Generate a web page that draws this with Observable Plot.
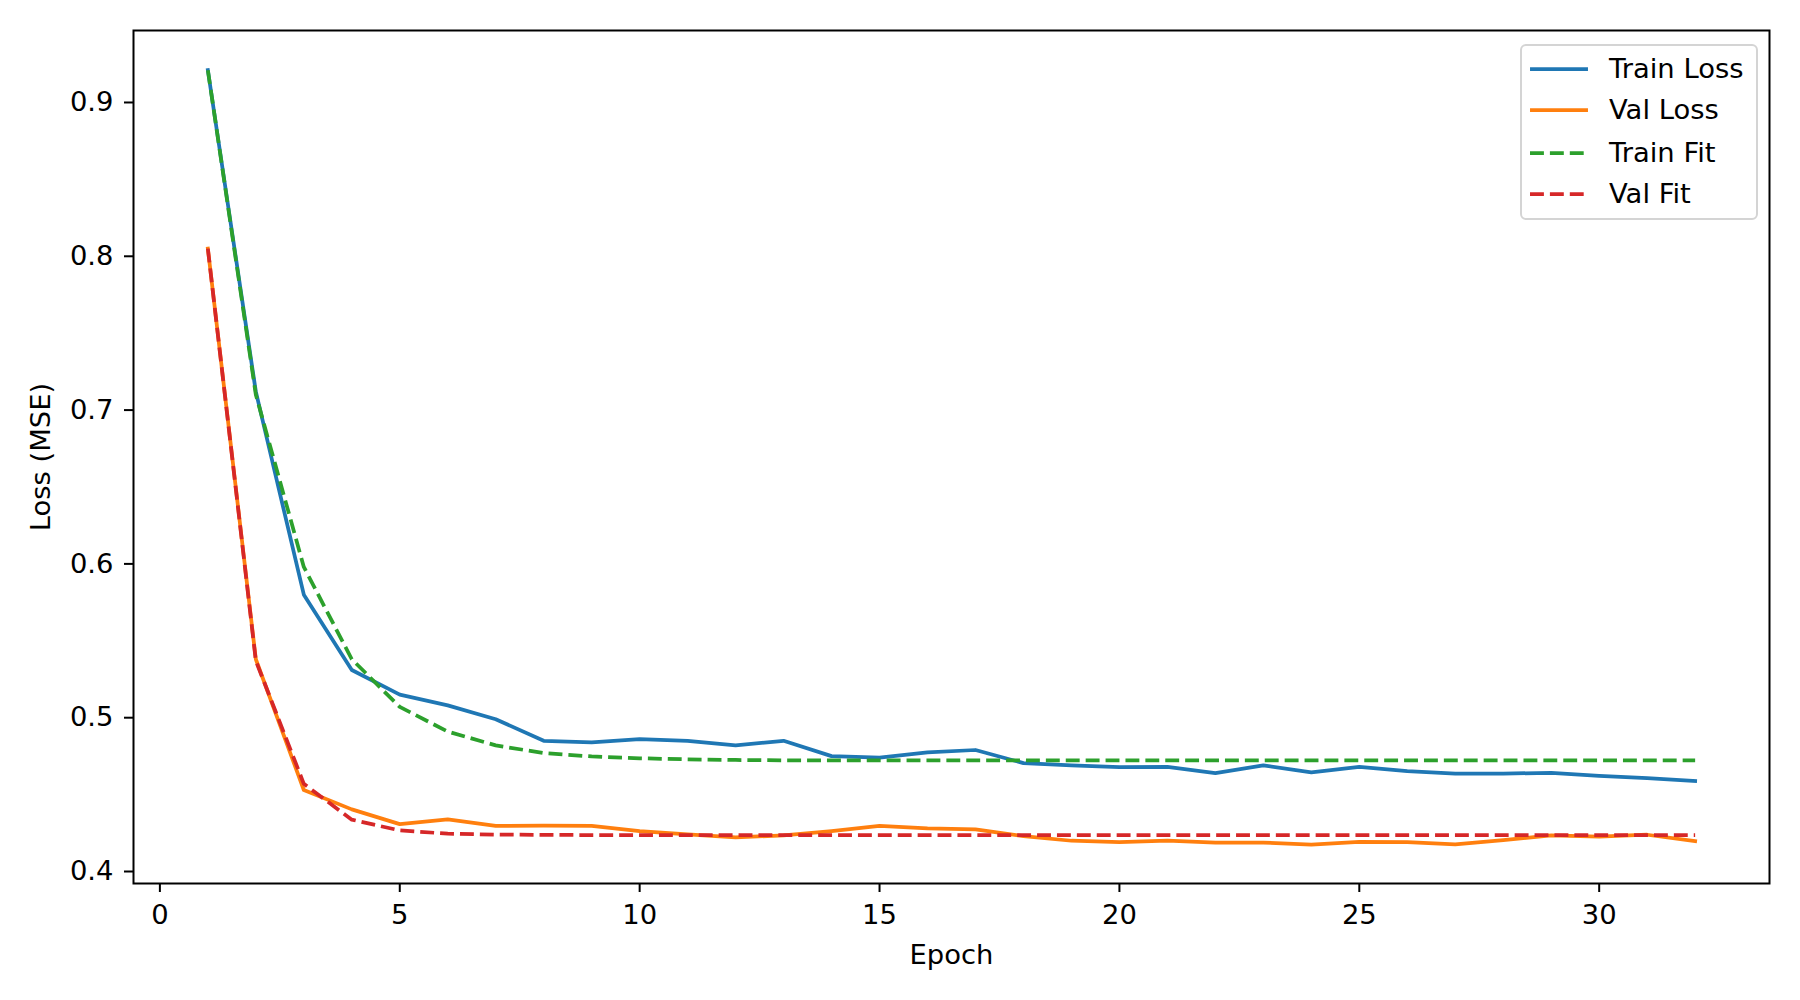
<!DOCTYPE html>
<html>
<head>
<meta charset="utf-8">
<script src="https://cdn.jsdelivr.net/npm/d3@7"></script>
<script src="https://cdn.jsdelivr.net/npm/@observablehq/plot@0.6"></script>
<style>
  html, body { margin: 0; padding: 0; background: #fff; }
  #wrap { position: relative; width: 1800px; height: 1000px; font-family: "DejaVu Sans", sans-serif; }
  #legend { position: absolute; left: 1520px; top: 44px; width: 234px; height: 172px;
    border: 2px solid #d4d4d4; border-radius: 6px; background: rgba(255,255,255,0.8); box-sizing: content-box; }
  .row { position: absolute; left: 0; height: 30px; display: flex; align-items: center; white-space: nowrap; }
  .row svg { margin-left: 8px; }
  .row span { margin-left: 21px; font-size: 27.4px; color: #000; line-height: 30px; }
</style>
</head>
<body>
<div id="wrap"></div>
<script>
const epochs = [1,2,3,4,5,6,7,8,9,10,11,12,13,14,15,16,17,18,19,20,21,22,23,24,25,26,27,28,29,30,31,32];
const trainLoss = [0.921,0.712,0.580,0.531,0.515,0.508,0.499,0.485,0.484,0.486,0.485,0.482,0.485,0.475,0.474,0.4775,0.479,0.4705,0.469,0.4678,0.468,0.464,0.469,0.4644,0.468,0.4652,0.4636,0.4637,0.4641,0.4622,0.4607,0.4589];
const valLoss = [0.805,0.538,0.453,0.4404,0.4308,0.4339,0.4297,0.4298,0.4296,0.4263,0.4242,0.4222,0.4235,0.4263,0.4297,0.4280,0.4274,0.4230,0.4200,0.4191,0.4200,0.4187,0.4188,0.4175,0.4193,0.4191,0.4177,0.4204,0.4235,0.4226,0.4239,0.4198];
const trainFit = [0.921,0.710,0.598,0.538,0.507,0.491,0.482,0.477,0.4748,0.4736,0.4729,0.4725,0.4723,0.4722,0.4722,0.4722,0.4722,0.4722,0.4722,0.4722,0.4722,0.4722,0.4722,0.4722,0.4722,0.4722,0.4722,0.4722,0.4722,0.4722,0.4722,0.4722];
const valFit = [0.805,0.537,0.457,0.4337,0.4267,0.4246,0.4240,0.4238,0.4237,0.4237,0.4237,0.4237,0.4237,0.4237,0.4237,0.4237,0.4237,0.4237,0.4237,0.4237,0.4237,0.4237,0.4237,0.4237,0.4237,0.4237,0.4237,0.4237,0.4237,0.4237,0.4237,0.4237];
const xTicks = [0,5,10,15,20,25,30];
const yTicks = [0.4,0.5,0.6,0.7,0.8,0.9];
const seriesNames = ["Train Loss","Val Loss","Train Fit","Val Fit"];
const seriesColors = ["#1f77b4","#ff7f0e","#2ca02c","#d62728"];
const xLabel = "Epoch";
const yLabel = "Loss (MSE)";

const toRows = (vals) => epochs.map((e, i) => ({epoch: e, value: vals[i]}));
const lw = 3.75;
const dash = "13.9,6";

const chart = Plot.plot({
  width: 1800,
  height: 1000,
  marginLeft: 133,
  marginRight: 31,
  marginTop: 30,
  marginBottom: 117,
  style: {fontFamily: "DejaVu Sans", fontSize: "27.4px", color: "black", background: "white"},
  x: {domain: [-0.55, 33.55]},
  y: {domain: [0.3922, 0.9468]},
  marks: [
    Plot.axisX({ticks: xTicks, tickSize: 9, tickPadding: 12, strokeWidth: 2, label: null, tickFormat: d => String(d)}),
    Plot.axisY({ticks: yTicks, tickSize: 9, tickPadding: 11, strokeWidth: 2, label: null, tickFormat: d3.format(".1f")}),
    Plot.line(toRows(trainLoss), {x: "epoch", y: "value", stroke: seriesColors[0], strokeWidth: lw, strokeLinecap: "square"}),
    Plot.line(toRows(valLoss), {x: "epoch", y: "value", stroke: seriesColors[1], strokeWidth: lw, strokeLinecap: "square"}),
    Plot.line(toRows(trainFit), {x: "epoch", y: "value", stroke: seriesColors[2], strokeWidth: lw, strokeDasharray: dash, strokeLinecap: "butt"}),
    Plot.line(toRows(valFit), {x: "epoch", y: "value", stroke: seriesColors[3], strokeWidth: lw, strokeDasharray: dash, strokeLinecap: "butt"}),
    Plot.frame({stroke: "black", strokeWidth: 2}),
    Plot.text([xLabel], {text: d => d, frameAnchor: "bottom", lineAnchor: "bottom", textAnchor: "middle", dy: 80.5, fill: "black"}),
    Plot.text([yLabel], {text: d => d, frameAnchor: "left", lineAnchor: "bottom", textAnchor: "middle", rotate: -90, dx: -84, fill: "black"})
  ]
});

const wrap = document.getElementById("wrap");
wrap.appendChild(chart);

// legend
const legend = document.createElement("div");
legend.id = "legend";
const rowCenters = [22.7, 64.3, 107, 147.7];
seriesNames.forEach((name, i) => {
  const row = document.createElement("div");
  row.className = "row";
  row.style.top = (rowCenters[i] - 15) + "px";
  const dashed = i >= 2;
  row.innerHTML = `<svg width="58" height="10"><line x1="${dashed ? 0 : 1.9}" y1="5" x2="${dashed ? 58 : 56.1}" y2="5" stroke="${seriesColors[i]}" stroke-width="${lw}" ${dashed ? `stroke-dasharray="${dash}"` : 'stroke-linecap="square"'}/></svg><span>${name}</span>`;
  legend.appendChild(row);
});
wrap.appendChild(legend);
</script>
</body>
</html>
